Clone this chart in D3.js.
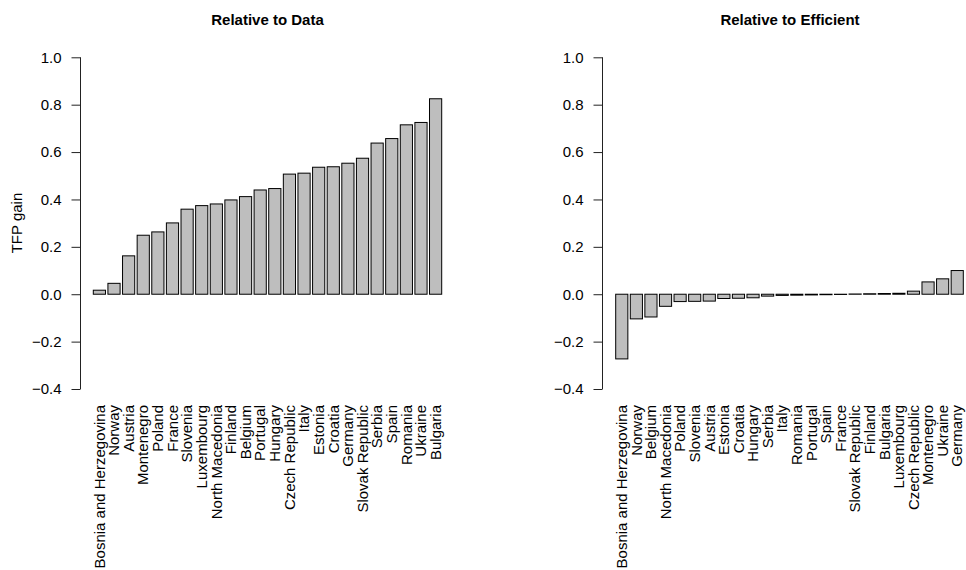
<!DOCTYPE html>
<html>
<head>
<meta charset="utf-8">
<script src="https://cdn.jsdelivr.net/npm/d3@7"></script>
<style>
  html, body { margin: 0; padding: 0; background: #fff; }
  svg { display: block; font-family: "Liberation Sans", Arial, Helvetica, sans-serif; }
</style>
</head>
<body>
<svg id="chart" width="966" height="570"></svg>
<script>
// ---- Data ----
const dataCountries = ["Bosnia and Herzegovina","Norway","Austria","Montenegro","Poland","France","Slovenia","Luxembourg","North Macedonia","Finland","Belgium","Portugal","Hungary","Czech Republic","Italy","Estonia","Croatia","Germany","Slovak Republic","Serbia","Spain","Romania","Ukraine","Bulgaria"];
const dataValues = [0.017,0.046,0.162,0.249,0.263,0.301,0.359,0.374,0.381,0.398,0.412,0.440,0.446,0.507,0.511,0.536,0.538,0.553,0.574,0.638,0.657,0.715,0.725,0.825];

const effCountries = ["Bosnia and Herzegovina","Norway","Belgium","North Macedonia","Poland","Slovenia","Austria","Estonia","Croatia","Hungary","Serbia","Italy","Romania","Portugal","Spain","France","Slovak Republic","Finland","Bulgaria","Luxembourg","Czech Republic","Montenegro","Ukraine","Germany"];
const effValues = [-0.273,-0.104,-0.096,-0.051,-0.031,-0.030,-0.029,-0.018,-0.017,-0.015,-0.008,-0.005,-0.004,-0.003,-0.002,-0.001,0.001,0.002,0.003,0.004,0.013,0.052,0.065,0.100];

const yTicks = [-0.4,-0.2,0.0,0.2,0.4,0.6,0.8,1.0];
const titles = ["Relative to Data","Relative to Efficient"];
const yLabel = "TFP gain";

// ---- Layout ----
const svg = d3.select("#chart");
const y = d3.scaleLinear().domain([-0.4, 1.0]).range([389, 57.3]);
const fmt = v => (v < 0 ? "\u2212" : "") + Math.abs(v).toFixed(1);

const panels = [
  {names: dataCountries, values: dataValues, title: titles[0], axisX: 80, barRange: [93.3, 441.7], titleX: 267.5},
  {names: effCountries, values: effValues, title: titles[1], axisX: 601.7, barRange: [615.7, 963.3], titleX: 790}
];

panels.forEach(p => {
  const g = svg.append("g");
  const x = d3.scaleBand().domain(p.names).range(p.barRange).paddingInner(1/6).paddingOuter(0);

  // bars
  g.selectAll("rect.bar").data(p.names.map((n, i) => ({n, v: p.values[i]})))
    .enter().append("rect")
    .attr("class", "bar")
    .attr("x", d => x(d.n))
    .attr("width", x.bandwidth())
    .attr("y", d => y(Math.max(0, d.v)))
    .attr("height", d => Math.max(0.01, Math.abs(y(d.v) - y(0))))
    .attr("fill", "#bebebe")
    .attr("stroke", "#000")
    .attr("stroke-width", 1);

  // y axis
  const ax = g.append("g")
    .attr("transform", `translate(${Math.round(p.axisX) + 0.5},0)`)
    .call(d3.axisLeft(y).tickValues(yTicks).tickFormat(fmt).tickSize(9).tickSizeOuter(0).tickPadding(10));
  ax.select(".domain").attr("stroke", "#222").attr("d", `M0,${y(-0.4)}V${y(1.0)}`);
  ax.selectAll(".tick line").attr("stroke", "#222");
  ax.selectAll(".tick text").attr("fill", "#000").style("font-size", "15px")
    .style("font-family", '"Liberation Sans", Arial, Helvetica, sans-serif');

  // x category labels
  g.selectAll("text.cat").data(p.names).enter().append("text")
    .attr("class", "cat")
    .attr("transform", d => `translate(${x(d) + x.bandwidth()/2},405) rotate(-90)`)
    .attr("text-anchor", "end")
    .attr("dy", "0.35em")
    .style("font-size", "15px")
    .attr("fill", "#000")
    .text(d => d);

  // title
  g.append("text")
    .attr("x", p.titleX).attr("y", 25)
    .attr("text-anchor", "middle")
    .style("font-size", "15px").style("font-weight", "bold")
    .attr("fill", "#000")
    .text(p.title);
});

// y label
svg.append("text")
  .attr("transform", "translate(21.7,223) rotate(-90)")
  .attr("text-anchor", "middle")
  .style("font-size", "15px")
  .attr("fill", "#000")
  .text(yLabel);
</script>
</body>
</html>
